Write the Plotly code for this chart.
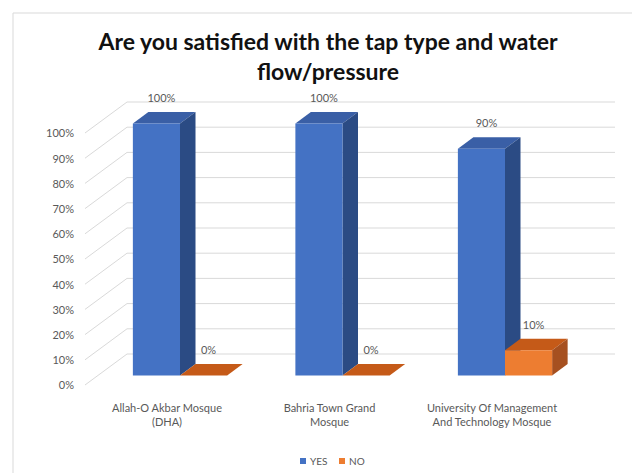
import plotly.graph_objects as go

# Survey results
categories = ["Allah-O Akbar Mosque<br>(DHA)", "Bahria Town Grand<br>Mosque",
              "University Of Management<br>And Technology Mosque"]
yes_vals = [1.00, 1.00, 0.90]
no_vals = [0.00, 0.00, 0.10]
series_names = ["YES", "NO"]
y_ticks = [i / 10 for i in range(11)]

FONT = "Lato"
GREY = "#595959"
BLUE, BLUE_TOP, BLUE_SIDE = "#4472C4", "#3A5FA6", "#2B4B84"
ORANGE, ORANGE_TOP, ORANGE_SIDE = "#ED7D31", "#C55A18", "#A65020"
GRID = "#D9D9D9"

W, H = 632, 473
L, R_EDGE, T, B_EDGE = 80, 620, 85, 392          # plot area in pixels
PW, PH = R_EDGE - L, B_EDGE - T

# pixel scale of the bar plane
X0_PX, X_STEP = 180.0, 162.5                     # category 0 centre, spacing
Y0_PX, Y_UNIT = 375.5, 252.0                     # 0% baseline, px per 100%
x_range = [(L - X0_PX) / X_STEP, (R_EDGE - X0_PX) / X_STEP]
y_range = [(Y0_PX - B_EDGE) / Y_UNIT, (Y0_PX - T) / Y_UNIT]

def dx(px):
    return px / X_STEP

def dy(px):
    return px / Y_UNIT

def paper_x(px):
    return (px - L) / PW

def paper_y(py):
    return (B_EDGE - py) / PH

# oblique depth of a bar, and of the whole floor
BAR_DX, BAR_DY = dx(15.5), dy(11.5)
FRONT_DY = dy(-9.5)                              # label plane relative to bars
BACK_DY = dy(21.5)                               # back wall relative to bars
GRID_RIGHT = dx(615 - X0_PX)

bargap = 0.42
bar_w = (1 - bargap) / 2

fig = go.Figure()
shapes = []
annotations = []

# walls: side-wall diagonals and back-wall horizontals
for v in y_ticks:
    xf, yf = x_range[0] + dx(85 - L), v + FRONT_DY
    xb, yb = xf + dx(42), v + BACK_DY
    shapes.append(dict(type="line", xref="x", yref="y", x0=xf, y0=yf, x1=xb, y1=yb,
                       line=dict(color=GRID, width=1), layer="below"))
    shapes.append(dict(type="line", xref="x", yref="y", x0=xb, y0=yb, x1=GRID_RIGHT, y1=yb,
                       line=dict(color=GRID, width=1), layer="below"))

fig.add_trace(go.Bar(x=list(range(len(categories))), y=yes_vals, name=series_names[0],
                     marker=dict(color=BLUE, line=dict(width=0))))
fig.add_trace(go.Bar(x=list(range(len(categories))), y=no_vals, name=series_names[1],
                     marker=dict(color=ORANGE, line=dict(width=0))))

label_x, label_y, label_t = [], [], []
for i in range(len(categories)):
    for k, (vals, top_c, side_c) in enumerate(
            [(yes_vals, BLUE_TOP, BLUE_SIDE), (no_vals, ORANGE_TOP, ORANGE_SIDE)]):
        v = vals[i]
        xl = i - bar_w + k * bar_w
        xr = xl + bar_w
        top = (f"M{xl},{v} L{xl + BAR_DX},{v + BAR_DY} L{xr + BAR_DX},{v + BAR_DY} "
               f"L{xr},{v} Z")
        side = (f"M{xr},0 L{xr + BAR_DX},{BAR_DY} L{xr + BAR_DX},{v + BAR_DY} "
                f"L{xr},{v} Z")
        shapes.append(dict(type="path", xref="x", yref="y", path=top,
                           fillcolor=top_c, line=dict(width=0), layer="below"))
        shapes.append(dict(type="path", xref="x", yref="y", path=side,
                           fillcolor=side_c, line=dict(width=0), layer="below"))
        label_x.append((xl + xr) / 2 + dx(5))
        label_y.append(v + BAR_DY + dy(13))
        label_t.append(f"{v:.0%}")

fig.add_trace(go.Scatter(x=label_x, y=label_y, text=label_t, mode="text",
                         textfont=dict(family=FONT, size=11, color=GREY),
                         showlegend=False, hoverinfo="skip"))

# compact legend: colour key squares followed by series names
legend_keys = [(series_names[0], BLUE, 300), (series_names[1], ORANGE, 339)]
for name, color, px in legend_keys:
    shapes.append(dict(type="rect", xref="paper", yref="paper",
                       x0=paper_x(px), x1=paper_x(px + 6),
                       y0=paper_y(464), y1=paper_y(458),
                       fillcolor=color, line=dict(width=0)))
    annotations.append(dict(text=name, xref="paper", yref="paper",
                            x=paper_x(px + 8), y=paper_y(461),
                            xanchor="left", yanchor="middle", showarrow=False,
                            font=dict(family=FONT, size=10, color=GREY)))

# chart frame
shapes.append(dict(type="rect", xref="paper", yref="paper",
                   x0=paper_x(13), x1=paper_x(W + 20),
                   y0=paper_y(H + 20), y1=paper_y(13),
                   line=dict(color="#D9D9D9", width=1), fillcolor="rgba(0,0,0,0)",
                   layer="below"))

fig.update_layout(
    width=W, height=H,
    margin=dict(l=L, r=W - R_EDGE, t=T, b=H - B_EDGE, autoexpand=False),
    paper_bgcolor="white", plot_bgcolor="rgba(0,0,0,0)",
    barmode="group", bargap=bargap, bargroupgap=0,
    shapes=shapes, annotations=annotations,
    showlegend=False,
    title=dict(text="<b>Are you satisfied with the tap type and water<br>flow/pressure</b>",
               x=328 / W, xref="container", xanchor="center",
               y=1 - 50 / H, yref="container", yanchor="top",
               font=dict(family=FONT, size=23, color="#111111")),
    xaxis=dict(range=x_range, tickvals=list(range(len(categories))), ticktext=categories,
               showgrid=False, zeroline=False, showline=False, ticks="",
               automargin=False,
               ticklabelshift=-13, ticklabelstandoff=8,
               tickfont=dict(family=FONT, size=11, color=GREY)),
    yaxis=dict(range=y_range, tickvals=y_ticks, tickformat=".0%",
               showgrid=False, zeroline=False, showline=False, ticks="",
               automargin=False,
               ticklabelshift=10, ticklabelstandoff=5,
               tickfont=dict(family=FONT, size=11, color=GREY)),
)

fig.write_html("out.html")
